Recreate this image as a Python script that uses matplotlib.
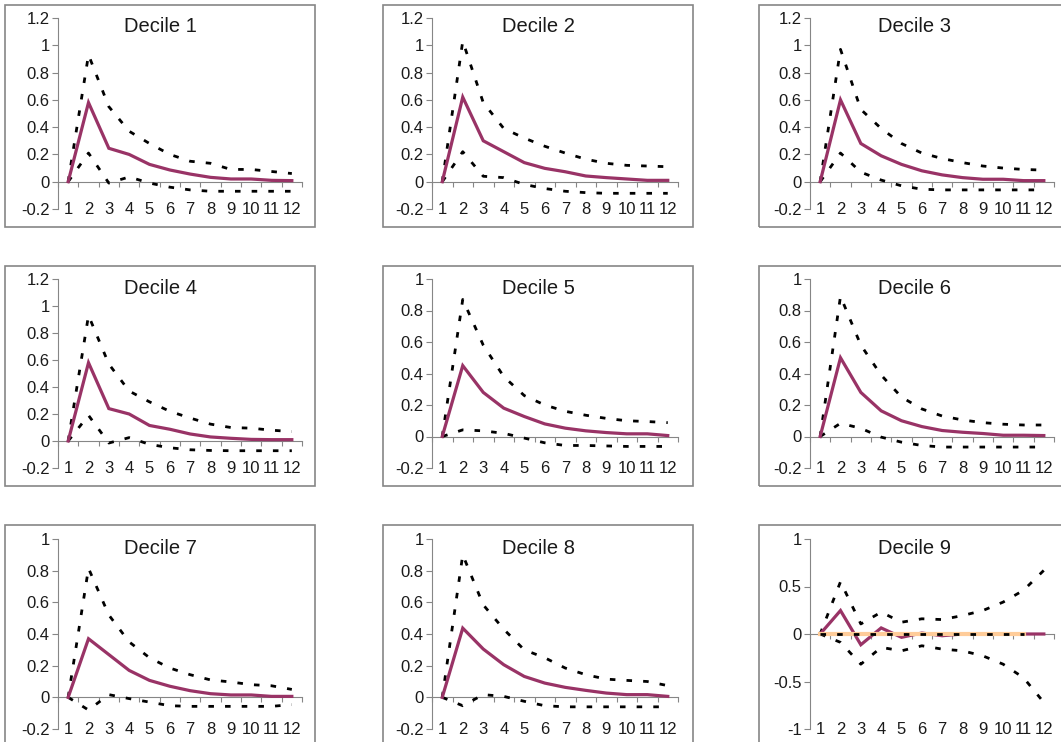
import matplotlib
matplotlib.use("Agg")
import matplotlib.pyplot as plt
from matplotlib.patches import Rectangle
from matplotlib.ticker import FuncFormatter

plt.rcParams['font.family'] = ['Liberation Sans', 'DejaVu Sans']
plt.rcParams['axes.unicode_minus'] = False

periods = list(range(1, 13))
titles = ["Decile %d" % i for i in range(1, 10)]

# impulse responses (mean) and the two bands
mean = [
    [0, 0.58, 0.245, 0.20, 0.127, 0.086, 0.056, 0.032, 0.02, 0.02, 0.01, 0.008],
    [0, 0.62, 0.30, 0.22, 0.14, 0.098, 0.073, 0.042, 0.03, 0.02, 0.01, 0.01],
    [0, 0.60, 0.28, 0.19, 0.127, 0.08, 0.05, 0.03, 0.018, 0.018, 0.008, 0.008],
    [0, 0.58, 0.24, 0.20, 0.115, 0.087, 0.052, 0.03, 0.02, 0.012, 0.01, 0.01],
    [0, 0.45, 0.28, 0.18, 0.127, 0.08, 0.053, 0.036, 0.025, 0.017, 0.017, 0.006],
    [0, 0.50, 0.28, 0.163, 0.10, 0.063, 0.038, 0.027, 0.019, 0.008, 0.008, 0.006],
    [0, 0.37, 0.27, 0.17, 0.107, 0.07, 0.042, 0.023, 0.015, 0.015, 0.006, 0.006],
    [0, 0.437, 0.305, 0.206, 0.132, 0.09, 0.063, 0.044, 0.027, 0.017, 0.017, 0.006],
    [0, 0.247, -0.113, 0.064, -0.035, 0.01, -0.018, 0, 0, 0, 0, 0],
]
upper = [
    [0, 0.93, 0.55, 0.37, 0.28, 0.20, 0.15, 0.135, 0.09, 0.09, 0.075, 0.06],
    [0, 1.03, 0.58, 0.39, 0.32, 0.26, 0.21, 0.165, 0.135, 0.12, 0.115, 0.11],
    [0, 0.97, 0.53, 0.39, 0.28, 0.21, 0.17, 0.14, 0.115, 0.10, 0.09, 0.085],
    [0, 0.93, 0.57, 0.37, 0.29, 0.22, 0.17, 0.125, 0.10, 0.095, 0.08, 0.07],
    [0, 0.87, 0.58, 0.38, 0.26, 0.20, 0.16, 0.135, 0.115, 0.10, 0.095, 0.088],
    [0, 0.89, 0.58, 0.39, 0.25, 0.175, 0.13, 0.105, 0.088, 0.078, 0.073, 0.073],
    [0, 0.815, 0.52, 0.35, 0.25, 0.185, 0.143, 0.11, 0.097, 0.08, 0.073, 0.05],
    [0, 0.90, 0.584, 0.43, 0.30, 0.25, 0.185, 0.143, 0.115, 0.107, 0.10, 0.074],
    [0, 0.55, 0.106, 0.23, 0.124, 0.16, 0.152, 0.194, 0.247, 0.336, 0.46, 0.67],
]
lower = [
    [0, 0.21, -0.01, 0.035, -0.01, -0.04, -0.06, -0.07, -0.07, -0.07, -0.07, -0.07],
    [0, 0.22, 0.04, 0.03, -0.02, -0.05, -0.07, -0.08, -0.085, -0.085, -0.085, -0.085],
    [0, 0.21, 0.07, 0.012, -0.03, -0.055, -0.06, -0.06, -0.06, -0.06, -0.06, -0.06],
    [0, 0.19, -0.015, 0.025, -0.025, -0.05, -0.065, -0.07, -0.072, -0.072, -0.072, -0.072],
    [0, 0.042, 0.036, 0.02, -0.01, -0.04, -0.057, -0.057, -0.06, -0.063, -0.063, -0.063],
    [0, 0.084, 0.052, -0.004, -0.036, -0.057, -0.067, -0.067, -0.067, -0.067, -0.067, -0.067],
    [0, -0.08, 0.017, -0.008, -0.03, -0.053, -0.057, -0.057, -0.057, -0.057, -0.057, -0.046],
    [0, -0.053, 0.017, 0.006, -0.025, -0.053, -0.06, -0.06, -0.06, -0.06, -0.06, -0.06],
    [0, -0.088, -0.318, -0.141, -0.177, -0.124, -0.159, -0.177, -0.23, -0.318, -0.46, -0.72],
]
# extra flat series that only shows up in decile 9
zero_line = [0] * 11

ylims = [(-0.2, 1.2)] * 4 + [(-0.2, 1.0)] * 4 + [(-1, 1)]
ysteps = [0.2] * 8 + [0.5]

W, H = 1061, 742
fig = plt.figure(figsize=(W / 100, H / 100), dpi=100)

# pixel layout of the grid
col_ax = [(58, 302), (432, 678), (810, 1054)]
row_ax = [(18, 209), (279, 468), (539, 729)]
col_fr = [(5, 315), (383, 693), (759, 1070)]
row_fr = [(5, 227), (266, 486), (525, 770)]
title_y = [27, 288, 548]

GRAY = '#868686'
PLUM = '#993366'
DASH = (0, (2.0, 4.0))


def px(x0, y0, x1, y1):
    return [x0 / W, 1 - y1 / H, (x1 - x0) / W, (y1 - y0) / H]


for k in range(9):
    r, c = divmod(k, 3)
    fx0, fx1 = col_fr[c]
    fy0, fy1 = row_fr[r]
    fig.patches.append(Rectangle((fx0 / W, 1 - fy1 / H), (fx1 - fx0) / W, (fy1 - fy0) / H,
                                 transform=fig.transFigure, fill=False,
                                 edgecolor=GRAY, linewidth=1.2))
    fig.text((fx0 + fx1) / 2 / W, 1 - title_y[r] / H, titles[k], ha='center', va='center',
             fontsize=14.5, color='#1a1a1a')

    ax = fig.add_axes(px(col_ax[c][0], row_ax[r][0], col_ax[c][1], row_ax[r][1]))
    ax.patch.set_alpha(0)
    lo, hi = ylims[k]
    ax.set_ylim(lo, hi)
    ax.set_xlim(0.5, 12.5)

    ax.plot(periods, upper[k], color='black', lw=2.0, ls=DASH, zorder=3)
    ax.plot(periods, lower[k], color='black', lw=2.0, ls=DASH, zorder=3)
    ax.plot(periods, mean[k], color=PLUM, lw=2.3, zorder=4, solid_joinstyle='miter')
    if k == 8:
        # peach zero series sits over the mean line, dashed black on top
        ax.plot(periods[:11], zero_line, color='#FFCC99', lw=3.0, zorder=5)
        ax.plot(periods[:11], zero_line, color='black', lw=2.0, ls=DASH, zorder=6)

    for s in ['top', 'right']:
        ax.spines[s].set_visible(False)
    ax.spines['left'].set_color(GRAY)
    ax.spines['bottom'].set_color(GRAY)
    ax.spines['bottom'].set_position(('data', 0))

    step = ysteps[k]
    n = int(round((hi - lo) / step))
    ax.set_yticks([round(lo + i * step, 2) for i in range(n + 1)])
    ax.yaxis.set_major_formatter(FuncFormatter(lambda v, p: '%g' % v))
    ax.tick_params(axis='y', direction='out', length=4, color=GRAY, labelsize=12,
                   labelcolor='#1a1a1a', pad=2)

    ax.set_xticks([p - 0.5 for p in periods] + [12.5])
    ax.tick_params(axis='x', direction='out', length=3.5, color=GRAY, labelbottom=False)

    sec = ax.secondary_xaxis(0)
    sec.set_xticks(periods)
    sec.set_xticklabels([str(p) for p in periods])
    sec.spines['bottom'].set_visible(False)
    sec.tick_params(length=0, labelsize=12, labelcolor='#1a1a1a', pad=-5)

fig.savefig('out.png', dpi=100)
